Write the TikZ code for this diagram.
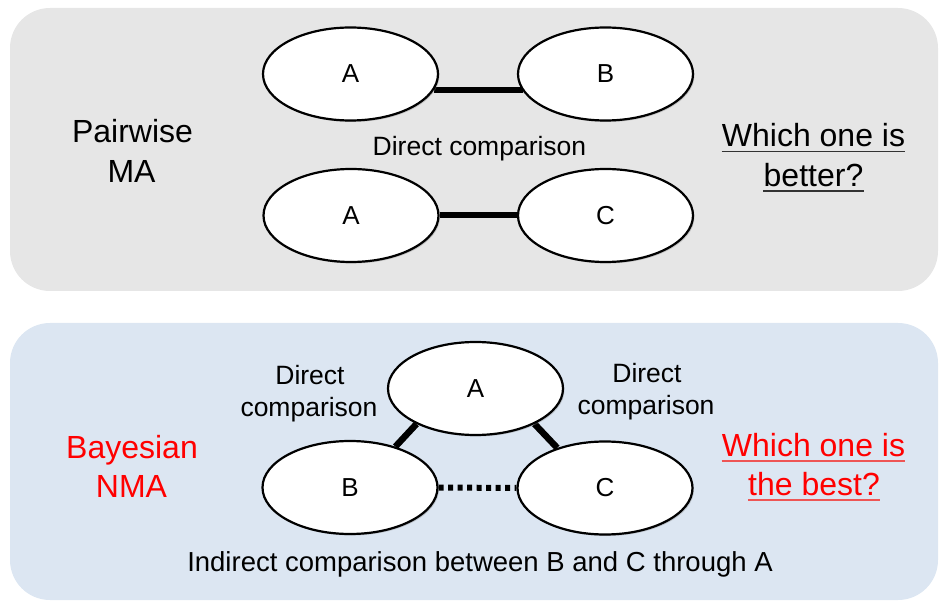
\documentclass[tikz,border=0pt]{standalone}
\usepackage{fontspec}
\setmainfont{Liberation Sans}
\usetikzlibrary{shapes.geometric,shadows}
\definecolor{pairbg}{HTML}{E6E6E6}
\definecolor{nmabg}{HTML}{DCE6F2}
\definecolor{hired}{HTML}{FF0000}
\definecolor{hiline}{HTML}{EE5555}
\definecolor{inkline}{HTML}{333333}
\pgfdeclarelayer{bg}
\pgfsetlayers{bg,main}
\begin{document}
\begin{tikzpicture}[x=1pt,y=-1pt,
  panel/.style={fill=#1, draw=none, rounded corners=40pt},
  arm/.style={ellipse, draw=black, line width=2.2pt, fill=white,
    minimum width=175pt, minimum height=93pt, inner sep=0pt,
    font=\fontsize{26}{30}\selectfont,
    drop shadow={shadow xshift=1.5pt, shadow yshift=-1.5pt, opacity=0.35}},
  link/.style={line width=6.5pt},
  indirect/.style={line width=6pt, dash pattern=on 5pt off 4.5pt},
  big/.style={anchor=base, inner sep=0pt, font=\fontsize{32}{38}\selectfont},
  small/.style={anchor=base, inner sep=0pt, font=\fontsize{26.5}{30}\selectfont},
  uline/.style={line width=1.8pt}
]
\useasboundingbox (0,0) rectangle (940,601);

% treatment nodes: pairwise panel
\node[arm] (pa) at (350.5,74) {A};
\node[arm] (pb) at (605.5,74) {B};
\node[arm] (qa) at (351,215.5) {A};
\node[arm] (qc) at (605.5,215.5) {C};

% treatment nodes: network panel
\node[arm] (na) at (475.5,388.5) {A};
\node[arm] (nb) at (350,487.5) {B};
\node[arm] (nc) at (605,488) {C};

\begin{pgfonlayer}{bg}
  \fill[panel=pairbg] (10,8) rectangle (938,291);
  \fill[panel=nmabg] (10,323) rectangle (938,600);
  % comparisons
  \draw[link] (pa.-11.8) -- (pa.-11.8 -| pb.-168.2);
  \draw[link, line width=6pt] (qa) -- (qc);
  \draw[link] (nb.42) -- (na.211);
  \draw[link] (na.-31) -- (nc.140);
  \draw[indirect] (nb) -- (nc);
\end{pgfonlayer}

% pairwise panel texts
\node[big] (pw1) at (132.5,143) {Pairwise};
\node[big] (pw2) at (131.5,183) {MA};
\node[small] (dc) at (479.5,156) {Direct comparison};
\node[big] (wq1) at (813.5,147) {Which one is};
\node[big] (wq2) at (813.5,187) {better?};
\draw[uline, inkline] ([yshift=-4.5pt]wq1.base west) -- ([yshift=-4.5pt]wq1.base east);
\draw[uline, inkline] ([yshift=-4pt]wq2.base west) -- ([yshift=-4pt]wq2.base east);

% network panel texts
\node[small] (dl1) at (310,385) {Direct};
\node[small] (dl2) at (309,417) {comparison};
\node[small] (dr1) at (647,382.5) {Direct};
\node[small] (dr2) at (646,415) {comparison};
\node[big, text=hired] (bn1) at (132,458) {Bayesian};
\node[big, text=hired] (bn2) at (131.5,497) {NMA};
\node[big, text=hired] (bq1) at (813.5,456.5) {Which one is};
\node[big, text=hired] (bq2) at (814,495) {the best?};
\draw[uline, hiline] ([yshift=-4.5pt]bq1.base west) -- ([yshift=-4.5pt]bq1.base east);
\draw[uline, hiline] ([yshift=-5pt]bq2.base west) -- ([yshift=-5pt]bq2.base east);
\node[small, font=\fontsize{27.5}{32}\selectfont] (ind) at (480,571) {Indirect comparison between B and C through A};
\end{tikzpicture}
\end{document}
